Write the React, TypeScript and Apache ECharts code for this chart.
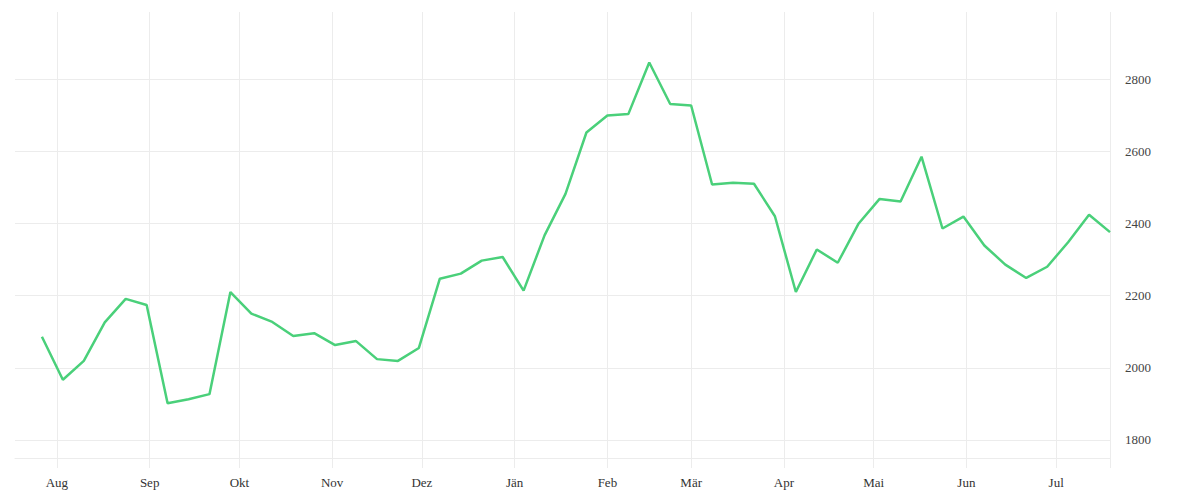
import { useEffect, useRef } from 'react';
import * as echarts from 'echarts';

// weekly closing values, first week 2017-07-27
const startDate = '2017-07-27';
const values = [
  2086, 1967, 2019, 2126, 2191, 2174, 1902, 1913, 1927, 2210,
  2150, 2127, 2088, 2096, 2063, 2074, 2024, 2019, 2055, 2247,
  2261, 2297, 2307, 2214, 2367, 2482, 2652, 2699, 2703, 2846,
  2731, 2727, 2508, 2513, 2510, 2420, 2210, 2328, 2291, 2400,
  2468, 2461, 2585, 2386, 2419, 2339, 2286, 2249, 2280, 2348,
  2424, 2376,
];

const monthTicks = [
  '2017-08-01', '2017-09-01', '2017-10-01', '2017-11-01', '2017-12-01', '2018-01-01',
  '2018-02-01', '2018-03-01', '2018-04-01', '2018-05-01', '2018-06-01', '2018-07-01',
];
const monthNames = ['Jän', 'Feb', 'Mär', 'Apr', 'Mai', 'Jun', 'Jul', 'Aug', 'Sep', 'Okt', 'Nov', 'Dez'];
const yTicks = [1800, 2000, 2200, 2400, 2600, 2800];

const DAY = 86400000;
const ts = (s: string) => Date.parse(s + 'T00:00:00Z');

const App = () => {
  const chartRef = useRef<HTMLDivElement>(null);

  useEffect(() => {
    document.body.style.margin = '0';
    if (!chartRef.current) return;
    const chart = echarts.init(chartRef.current, null, { renderer: 'svg' });

    const t0 = ts(startDate);
    const data = values.map((v, i) => [t0 + i * 7 * DAY, v]);
    const xMin = ts('2017-07-18');
    const xMax = data[data.length - 1][0];
    const tickValues = monthTicks.map(ts).concat([xMax]);
    const labelValues = monthTicks.map(ts);

    chart.setOption({
      animation: false,
      backgroundColor: '#fff',
      textStyle: { fontFamily: 'serif' },
      grid: { left: 15, right: 90, top: 12, bottom: 42 },
      xAxis: {
        type: 'value',
        min: xMin,
        max: xMax,
        axisLine: { show: true, lineStyle: { color: '#ececec', width: 1 } },
        axisTick: { show: true, length: 10, customValues: tickValues, lineStyle: { color: '#ececec' } },
        splitLine: { show: true, lineStyle: { color: '#ececec', width: 1 } },
        axisLabel: {
          customValues: labelValues,
          color: '#333',
          fontSize: 13,
          fontFamily: 'serif',
          margin: 18,
          formatter: (v: number) => monthNames[new Date(v).getUTCMonth()],
        },
      },
      yAxis: {
        type: 'value',
        position: 'right',
        min: 1750,
        max: 2986,
        axisLine: { show: false },
        axisTick: { show: false, customValues: yTicks },
        splitLine: { show: true, lineStyle: { color: '#ececec', width: 1 } },
        axisLabel: {
          customValues: yTicks,
          color: '#444',
          fontSize: 13,
          fontFamily: 'serif',
          margin: 15,
          formatter: (v: number) => String(v),
        },
      },
      series: [
        {
          type: 'line',
          data,
          showSymbol: false,
          lineStyle: { color: '#4ad07a', width: 2.5 },
          itemStyle: { color: '#4ad07a' },
        },
      ],
    });

    return () => {
      chart.dispose();
    };
  }, []);

  return <div ref={chartRef} style={{ width: 1200, height: 500 }} />;
};

export default App;
